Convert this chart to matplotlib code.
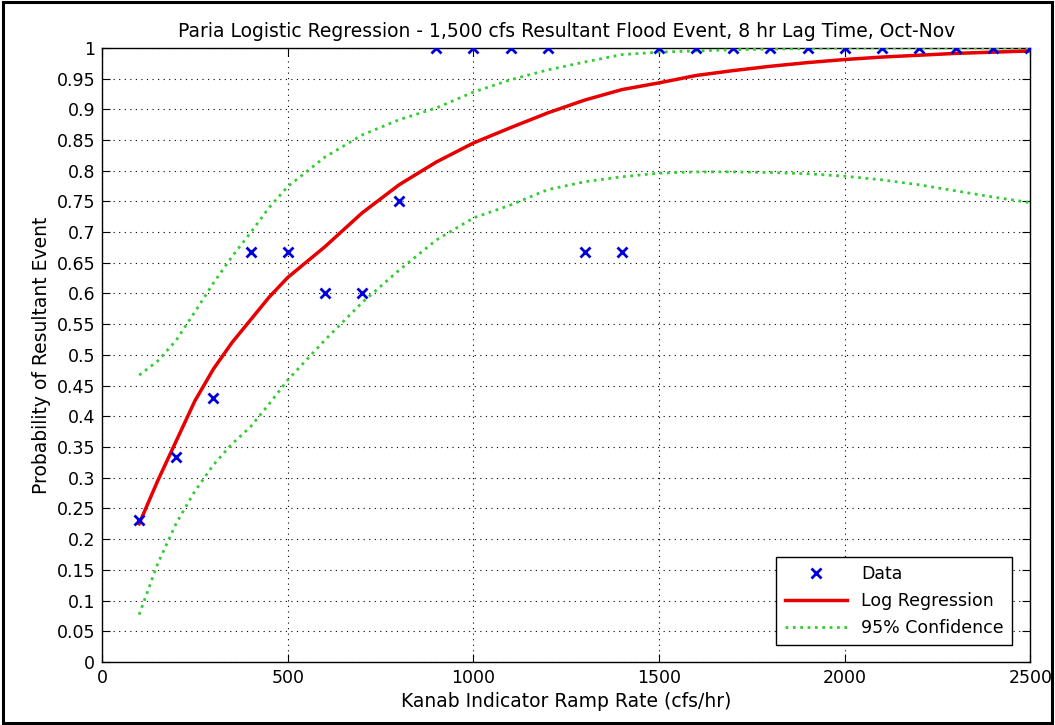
import numpy as np
import matplotlib
matplotlib.use('Agg')
import matplotlib.pyplot as plt
from matplotlib.patches import Rectangle

# Observed data points (ramp rate, probability of resultant event)
ramp = [100, 200, 300, 400, 500, 600, 700, 800, 900, 1000, 1100, 1200, 1300,
        1400, 1500, 1600, 1700, 1800, 1900, 2000, 2100, 2200, 2300, 2400, 2500]
prob = [0.231, 0.334, 0.429, 0.667, 0.667, 0.600, 0.600, 0.750, 1.0, 1.0, 1.0, 1.0, 0.667,
        0.667, 1.0, 1.0, 1.0, 1.0, 1.0, 1.0, 1.0, 1.0, 1.0, 1.0, 1.0]

# Fitted logistic regression curve and 95% bounds
curve_x = [100, 150, 200, 250, 300, 350, 400, 450, 500, 600, 700, 800, 900, 1000,
           1100, 1200, 1300, 1400, 1500, 1600, 1700, 1800, 1900, 2000, 2100, 2200,
           2300, 2400, 2500]
fit = [0.225, 0.295, 0.360, 0.425, 0.477, 0.520, 0.557, 0.594, 0.626, 0.676, 0.731,
       0.777, 0.814, 0.845, 0.870, 0.894, 0.915, 0.932, 0.943, 0.955, 0.963, 0.970,
       0.976, 0.981, 0.985, 0.988, 0.991, 0.993, 0.995]
upper = [0.467, 0.490, 0.524, 0.570, 0.617, 0.660, 0.699, 0.740, 0.774, 0.822, 0.858,
         0.883, 0.902, 0.928, 0.948, 0.964, 0.977, 0.989, 0.993, 0.995, 0.997, 0.998,
         0.999, 1.0, 1.0, 1.0, 1.0, 1.0, 1.0]
lower = [0.077, 0.160, 0.226, 0.278, 0.321, 0.355, 0.383, 0.420, 0.459, 0.524, 0.585,
         0.638, 0.687, 0.723, 0.744, 0.769, 0.782, 0.790, 0.796, 0.798, 0.798, 0.797,
         0.795, 0.791, 0.785, 0.777, 0.767, 0.757, 0.748]

plt.rcParams['font.family'] = ['DejaVu Sans']

fig = plt.figure(figsize=(10.55, 7.25), dpi=100)
ax = fig.add_axes([0.0967, 0.087, 0.880, 0.847])

ax.plot(ramp, prob, 'x', color='#0000dd', markersize=7, markeredgewidth=2,
        label='Data', zorder=5)
ax.plot(curve_x, fit, '-', color='#e80000', linewidth=2.5, label='Log Regression', zorder=4)
ax.plot(curve_x, upper, ':', color='#33cc33', linewidth=2, label='95% Confidence', zorder=3)
ax.plot(curve_x, lower, ':', color='#33cc33', linewidth=2, zorder=3)

ax.set_xlim(0, 2500)
ax.set_ylim(0, 1)
ax.set_xticks(np.arange(0, 2501, 500))
yt = np.round(np.arange(0, 1.0001, 0.05), 2)
ax.set_yticks(yt)
ax.set_yticklabels(['%g' % v for v in yt])
ax.tick_params(direction='in', top=True, right=True, length=6, labelsize=12.5, pad=5)
ax.grid(True, color='black', linestyle=(0, (1, 4)), linewidth=0.8)
for s in ax.spines.values():
    s.set_linewidth(1.0)

ax.set_title('Paria Logistic Regression - 1,500 cfs Resultant Flood Event, 8 hr Lag Time, Oct-Nov',
             fontsize=13.5, pad=8)
ax.set_xlabel('Kanab Indicator Ramp Rate (cfs/hr)', fontsize=13.5)
ax.set_ylabel('Probability of Resultant Event', fontsize=13.5)

leg = ax.legend(loc='lower right', fontsize=12.5, frameon=True, fancybox=False,
                edgecolor='black', framealpha=1, borderpad=0.5, handlelength=3.6,
                bbox_to_anchor=(0.99, 0.013))
leg.get_frame().set_linewidth(1.0)

# black frame around the whole image
fig.patches.append(Rectangle((0.003, 0.003), 0.994, 0.994, transform=fig.transFigure,
                             fill=False, edgecolor='black', linewidth=2.2))

fig.savefig('out.png', dpi=100)
